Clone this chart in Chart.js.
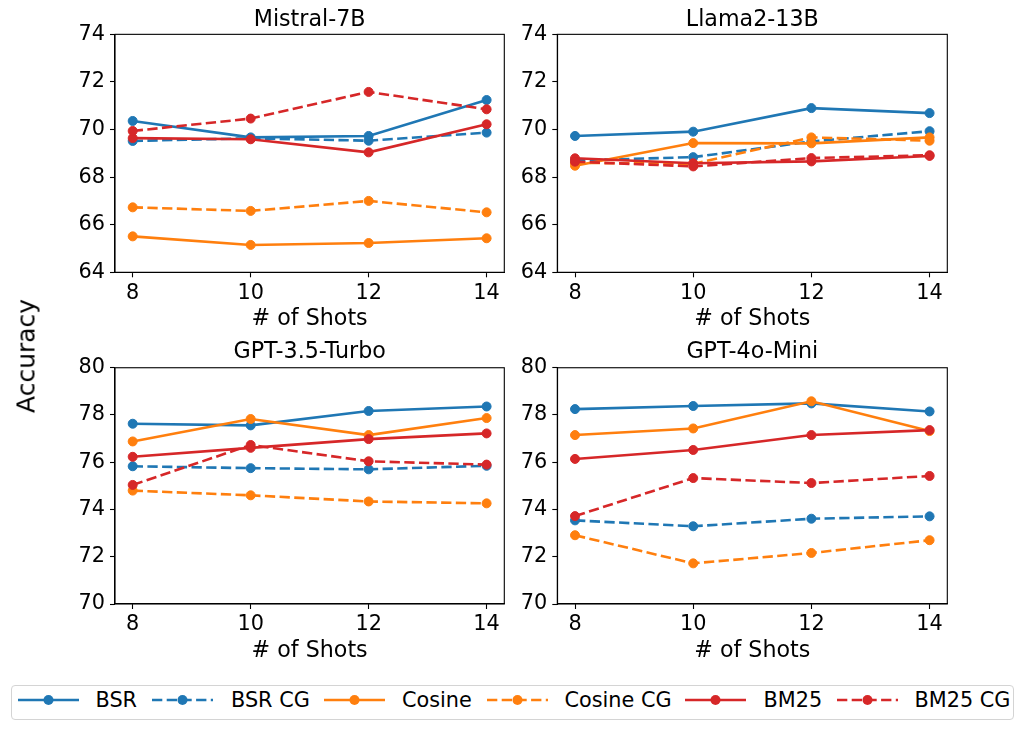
<!DOCTYPE html>
<html>
<head>
<meta charset="utf-8">
<script src="https://cdn.jsdelivr.net/npm/chart.js@4.4.1/dist/chart.umd.min.js"></script>
<style>
  body { margin: 0; background: #fff; width: 1023px; height: 729px; position: relative; overflow: hidden; font-family: "DejaVu Sans"; }
  canvas { position: absolute; }
  #ylabel { position: absolute; left: 26.4px; top: 356px; font-size: 25px; line-height: 25px; white-space: nowrap;
            transform: translate(-50%, -50%) rotate(-90deg); }
  #legend { position: absolute; left: 10.5px; top: 685px; width: 1001px; height: 33px; border: 1px solid #d4d4d4; border-radius: 4px; }
  .item { position: absolute; top: 688.4px; height: 24px; line-height: 24px; font-size: 20.8px; white-space: nowrap; }
  .item svg { position: absolute; top: 0; left: 0; }
</style>
</head>
<body>
<canvas id="c0" width="511" height="335" style="left:0;top:0"></canvas>
<canvas id="c1" width="512" height="335" style="left:511px;top:0"></canvas>
<canvas id="c2" width="511" height="335" style="left:0;top:335px"></canvas>
<canvas id="c3" width="512" height="335" style="left:511px;top:335px"></canvas>
<div id="ylabel">Accuracy</div>
<div id="legend"></div>
<script>
// shots on the x axis
const shots = [8, 10, 12, 14];
const yTicksTop = [64, 66, 68, 70, 72, 74];
const yTicksBottom = [70, 72, 74, 76, 78, 80];
const seriesNames = ['BSR', 'BSR CG', 'Cosine', 'Cosine CG', 'BM25', 'BM25 CG'];

// Mistral-7B
const mistralBsr = [70.36, 69.67, 69.73, 71.24];
const mistralBsrCg = [69.52, 69.63, 69.53, 69.87];
const mistralCosine = [65.51, 65.15, 65.23, 65.43];
const mistralCosineCg = [66.73, 66.58, 67.0, 66.52];
const mistralBm25 = [69.64, 69.59, 69.04, 70.22];
const mistralBm25Cg = [69.94, 70.46, 71.58, 70.85];

// Llama2-13B
const llamaBsr = [69.73, 69.91, 70.9, 70.69];
const llamaBsrCg = [68.7, 68.84, 69.5, 69.93];
const llamaCosine = [68.48, 69.43, 69.42, 69.67];
const llamaCosineCg = [68.6, 68.56, 69.67, 69.53];
const llamaBm25 = [68.79, 68.58, 68.66, 68.89];
const llamaBm25Cg = [68.65, 68.45, 68.8, 68.92];

// GPT-3.5-Turbo
const gpt35Bsr = [77.63, 77.56, 78.17, 78.36];
const gpt35BsrCg = [75.83, 75.75, 75.7, 75.85];
const gpt35Cosine = [76.88, 77.83, 77.15, 77.87];
const gpt35CosineCg = [74.8, 74.6, 74.34, 74.26];
const gpt35Bm25 = [76.23, 76.61, 76.98, 77.22];
const gpt35Bm25Cg = [75.04, 76.73, 76.04, 75.9];

// GPT-4o-Mini
const gpt4oBsr = [78.25, 78.38, 78.49, 78.15];
const gpt4oBsrCg = [73.54, 73.29, 73.61, 73.71];
const gpt4oCosine = [77.15, 77.43, 78.58, 77.32];
const gpt4oCosineCg = [72.91, 71.72, 72.16, 72.7];
const gpt4oBm25 = [76.14, 76.52, 77.15, 77.36];
const gpt4oBm25Cg = [73.72, 75.33, 75.12, 75.42];

const colors = ['#1f77b4', '#1f77b4', '#ff7f0e', '#ff7f0e', '#d62728', '#d62728'];
const dashed = [false, true, false, true, false, true];
const DASH = [10.3, 4.4];

Chart.defaults.font.family = "'DejaVu Sans'";
Chart.defaults.color = '#000';

// box around the plot area, and title centred over the plot area like matplotlib
const frame = {
  id: 'frame',
  afterLayout(chart) {
    const t = chart.titleBlock;
    if (t) {
      t.left = chart.chartArea.left;
      t.right = chart.chartArea.right;
      t.width = t.right - t.left;
    }
  },
  afterDatasetsDraw(chart) {
    const {ctx, chartArea: a} = chart;
    ctx.save();
    ctx.strokeStyle = '#000';
    ctx.lineWidth = 1.1;
    ctx.strokeRect(a.left, a.top, a.right - a.left, a.bottom - a.top);
    ctx.restore();
  }
};

const cols = [
  {yWidth: 115, padRight: 6.7},
  {yWidth: 46.3, padRight: 75.7}
];
const rows = [
  {titlePad: {top: 7.4, bottom: 0.3}, xHeight: 62.7, xTitlePad: 2.7},
  {titlePad: {top: 4.2, bottom: 1.9}, xHeight: 66, xTitlePad: 5}
];

const tickGrid = {drawOnChartArea: false, drawTicks: true, tickLength: 5, tickColor: '#000', tickWidth: 1.1};
const axisBorder = {display: true, color: '#000', width: 1.1};

function makeChart(id, title, series, yTicks, col, row) {
  new Chart(document.getElementById(id), {
    type: 'line',
    data: {
      datasets: series.map((vals, i) => ({
        label: seriesNames[i],
        data: shots.map((x, j) => ({x, y: vals[j]})),
        borderColor: colors[i],
        backgroundColor: colors[i],
        borderWidth: 2.6,
        borderDash: dashed[i] ? DASH : [],
        pointRadius: 4.5,
        pointBorderWidth: 1,
        pointBackgroundColor: colors[i],
        pointBorderColor: colors[i],
        tension: 0,
        order: -i,
        clip: false,
      })),
    },
    options: {
      responsive: false,
      animation: false,
      devicePixelRatio: 1,
      layout: {padding: {left: 0, right: col.padRight, top: 0, bottom: 0}},
      plugins: {
        legend: {display: false},
        tooltip: {enabled: false},
        title: {
          display: true,
          text: title,
          color: '#000',
          font: {size: 22.2, weight: 'normal'},
          padding: row.titlePad,
        },
      },
      scales: {
        x: {
          type: 'linear',
          min: 7.7,
          max: 14.3,
          afterBuildTicks: (s) => { s.ticks = shots.map((v) => ({value: v})); },
          afterFit: (s) => { s.height = row.xHeight; },
          ticks: {font: {size: 20.8}, color: '#000', padding: 3.6, maxRotation: 0},
          grid: tickGrid,
          border: axisBorder,
          title: {display: true, text: '# of Shots', color: '#000', font: {size: 22.2}, padding: {top: 0, bottom: row.xTitlePad}},
        },
        y: {
          type: 'linear',
          min: yTicks[0],
          max: yTicks[yTicks.length - 1],
          afterBuildTicks: (s) => { s.ticks = yTicks.map((v) => ({value: v})); },
          afterFit: (s) => { s.width = col.yWidth; },
          ticks: {font: {size: 20.8}, color: '#000', padding: 5},
          grid: tickGrid,
          border: axisBorder,
        },
      },
    },
    plugins: [frame],
  });
}

makeChart('c0', 'Mistral-7B',
  [mistralBsr, mistralBsrCg, mistralCosine, mistralCosineCg, mistralBm25, mistralBm25Cg],
  yTicksTop, cols[0], rows[0]);
makeChart('c1', 'Llama2-13B',
  [llamaBsr, llamaBsrCg, llamaCosine, llamaCosineCg, llamaBm25, llamaBm25Cg],
  yTicksTop, cols[1], rows[0]);
makeChart('c2', 'GPT-3.5-Turbo',
  [gpt35Bsr, gpt35BsrCg, gpt35Cosine, gpt35CosineCg, gpt35Bm25, gpt35Bm25Cg],
  yTicksBottom, cols[0], rows[1]);
makeChart('c3', 'GPT-4o-Mini',
  [gpt4oBsr, gpt4oBsrCg, gpt4oCosine, gpt4oCosineCg, gpt4oBm25, gpt4oBm25Cg],
  yTicksBottom, cols[1], rows[1]);

// legend below the grid, line + marker samples
const handleX = [17.5, 151.8, 323.5, 487.2, 684.5, 837.2];
const textX = [95.5, 231, 402, 564.5, 763.5, 914.5];
seriesNames.forEach((name, i) => {
  const h = document.createElement('div');
  h.className = 'item';
  h.style.left = handleX[i] + 'px';
  h.style.width = '61px';
  h.innerHTML = '<svg width="61" height="24"><line x1="0" y1="12" x2="61" y2="12" stroke="' + colors[i] +
    '" stroke-width="2.6"' + (dashed[i] ? ' stroke-dasharray="' + DASH.join(' ') + '"' : '') +
    '/><circle cx="30.5" cy="12" r="5" fill="' + colors[i] + '"/></svg>';
  document.body.appendChild(h);
  const t = document.createElement('div');
  t.className = 'item';
  t.style.left = textX[i] + 'px';
  t.textContent = name;
  document.body.appendChild(t);
});
</script>
</body>
</html>
